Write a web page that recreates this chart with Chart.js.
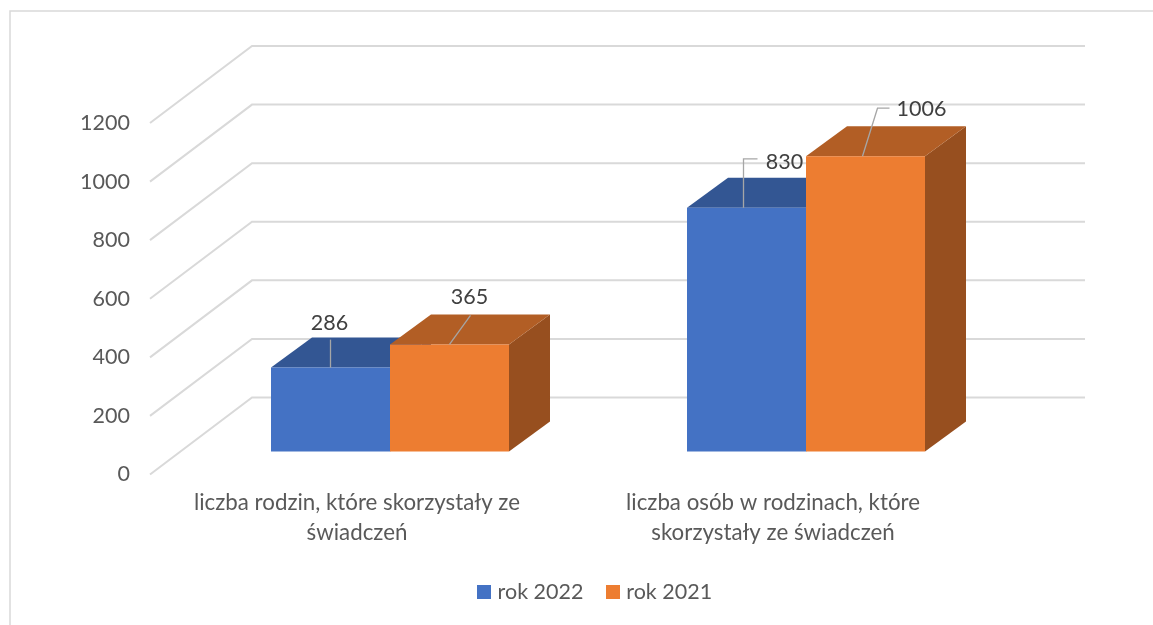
<!DOCTYPE html>
<html lang="pl"><head><meta charset="utf-8">
<style>html,body{margin:0;padding:0;background:#fff;overflow:hidden}#c{display:block}</style>
<script src="https://cdn.jsdelivr.net/npm/chart.js@4"></script>
</head><body><canvas id="c" width="1153" height="625"></canvas>
<script>
const categories = [["liczba rodzin, które skorzystały ze","świadczeń"],["liczba osób w rodzinach, które","skorzystały ze świadczeń"]];
const seriesNames = ["rok 2022","rok 2021"];
const values2022 = [286, 830];
const values2021 = [365, 1006];
const tickValues = [0,200,400,600,800,1000,1200];

const FONT = "Lato, Carlito, sans-serif";
const TEXT = "#595959", GRID = "#D9D9D9", LEAD = "#A6A6A6";
const colors = [
  {front:"#4472C4", top:"#335693", side:"#2A4A85"},
  {front:"#ED7D31", top:"#B25E25", side:"#974F1F"}
];
const barDepth = {x:41, y:-30};
const wallDepth = {x:102, y:-77};
const wallRight = 1085;
// leader geometry per dataset / category, relative to the bar's front-top centre
const leaders = [
  [{pts:[[0,-28]], lab:[-1,-45]}, {pts:[[-3,-49],[11,-49]], lab:[38,-45.5]}],
  [{pts:[[21,-29]], lab:[20,-47.5]}, {pts:[[12,-48],[24,-48]], lab:[56,-47]}]
];

function swatch(c){const s=document.createElement('canvas');s.width=14;s.height=14;const x=s.getContext('2d');x.fillStyle=c;x.fillRect(0,0,14,14);return s;}
const swatches = colors.map(c=>swatch(c.front));

const depthPlugin = {
  id:'depth',
  afterLayout(chart){ const l=chart.legend; l.top-=12; l.bottom-=12; },
  beforeDraw(chart){
    const c=chart.ctx; c.save(); c.strokeStyle=GRID; c.lineWidth=1.5;
    c.beginPath(); c.moveTo(10,625); c.lineTo(10,11); c.lineTo(1153,11); c.stroke(); c.restore();
  },
  beforeDatasetsDraw(chart){
    const c=chart.ctx, y=chart.scales.y, x0=150;
    c.save(); c.strokeStyle=GRID; c.lineWidth=2;
    tickValues.forEach(v=>{
      const p=y.getPixelForValue(v);
      c.beginPath(); c.moveTo(x0,p); c.lineTo(x0+wallDepth.x,p+wallDepth.y); c.lineTo(wallRight,p+wallDepth.y); c.stroke();
    });
    c.restore();
    // top and side faces, left series first; the front rectangles are drawn afterwards by the library
    chart.data.datasets.forEach((ds,i)=>{
      const col=colors[i];
      chart.getDatasetMeta(i).data.forEach(b=>{
        const p=b.getProps(['x','y','base','width'],true);
        const l=p.x-p.width/2, r=p.x+p.width/2, t=p.y, bt=p.base, d=barDepth;
        c.save();
        c.fillStyle=col.side; c.beginPath(); c.moveTo(r,t); c.lineTo(r+d.x,t+d.y); c.lineTo(r+d.x,bt+d.y); c.lineTo(r,bt); c.closePath(); c.fill();
        c.fillStyle=col.top; c.beginPath(); c.moveTo(l,t); c.lineTo(r,t); c.lineTo(r+d.x,t+d.y); c.lineTo(l+d.x,t+d.y); c.closePath(); c.fill();
        c.restore();
      });
    });
  },
  afterDatasetsDraw(chart){
    const c=chart.ctx;
    c.save(); c.font="21.5px "+FONT; c.textAlign='center'; c.textBaseline='middle';
    chart.data.datasets.forEach((ds,i)=>{
      chart.getDatasetMeta(i).data.forEach((b,j)=>{
        const p=b.getProps(['x','y'],true), L=leaders[i][j];
        c.strokeStyle=LEAD; c.lineWidth=1.3; c.beginPath(); c.moveTo(p.x+(j?-3:0),p.y);
        L.pts.forEach(q=>c.lineTo(p.x+q[0],p.y+q[1])); c.stroke();
        c.fillStyle="#404040"; c.fillText(String(ds.data[j]),p.x+L.lab[0],p.y+L.lab[1]);
      });
    });
    c.restore();
  }
};

new Chart(document.getElementById('c'),{
  type:'bar',
  data:{labels:categories,datasets:[
    {label:seriesNames[0],data:values2022,backgroundColor:colors[0].front,yAxisID:'yBars',categoryPercentage:0.5721,barPercentage:1},
    {label:seriesNames[1],data:values2021,backgroundColor:colors[1].front,yAxisID:'yBars',categoryPercentage:0.5721,barPercentage:1}
  ]},
  options:{
    responsive:false,animation:false,
    layout:{padding:{left:40,top:123,right:0,bottom:0}},
    plugins:{
      tooltip:{enabled:false},
      legend:{position:'bottom',labels:{
        color:TEXT,font:{family:FONT,size:21.5},padding:26,usePointStyle:true,boxWidth:6,boxHeight:14,
        generateLabels:()=>seriesNames.map((n,i)=>({text:n,pointStyle:swatches[i],fontColor:TEXT,datasetIndex:i,lineWidth:0}))
      }}
    },
    scales:{
      x:{grid:{display:false},border:{display:false},
        ticks:{color:TEXT,font:{family:FONT,size:22.3,lineHeight:1.32},padding:6,labelOffset:-33,maxRotation:0,autoSkip:false},
        afterFit(s){s.height=93;}},
      y:{position:'left',min:0,max:1200,grid:{display:false,drawTicks:false},border:{display:false},
        ticks:{stepSize:200,color:TEXT,font:{family:FONT,size:21.5},padding:52,callback:v=>String(v)},
        afterFit(s){s.width=142;}},
      yBars:{position:'right',min:-78,max:1119,grid:{display:false,drawTicks:false},border:{display:false},
        ticks:{display:false},
        afterFit(s){s.width=139;}}
    }
  },
  plugins:[depthPlugin]
});
</script></body></html>
